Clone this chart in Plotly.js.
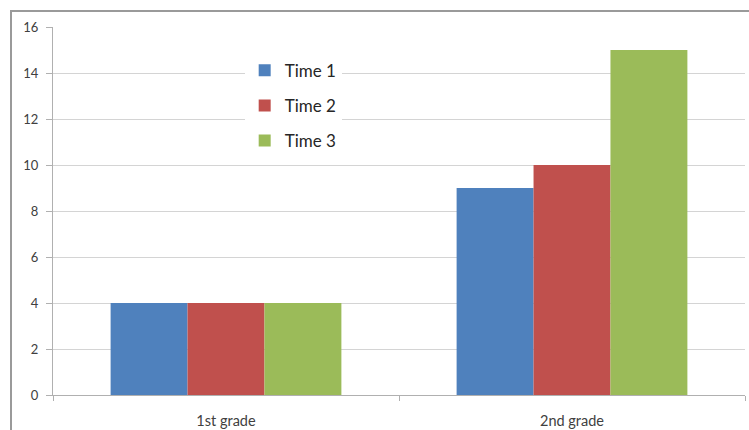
<!DOCTYPE html>
<html><head><meta charset="utf-8">
<script src="https://cdn.plot.ly/plotly-3.0.1.min.js"></script>
<style>
html,body{margin:0;padding:0;background:#fff;}
#wrap{position:relative;width:749px;height:430px;overflow:hidden;}
#frame{position:absolute;left:10px;top:10px;width:800px;height:500px;border-left:2px solid #9a9a9a;border-top:2px solid #9a9a9a;pointer-events:none;}
#chart{position:absolute;left:0;top:0;width:749px;height:430px;}
</style></head>
<body>
<div id="wrap"><div id="chart"></div><div id="frame"></div></div>
<script>
const categories = ["1st grade", "2nd grade"];
const seriesNames = ["Time 1", "Time 2", "Time 3"];
const time1 = [4, 9];
const time2 = [4, 10];
const time3 = [4, 15];
const colors = ["#4f81bd", "#c0504d", "#9bbb59"];
const values = [time1, time2, time3];

const traces = values.map((v, i) => ({
  type: "bar",
  name: seriesNames[i],
  x: categories,
  y: v,
  marker: {color: colors[i], line: {width: 0}},
  legendgroup: "g" + i,
  hoverinfo: "x+y+name"
}));

const layout = {
  width: 749, height: 430,
  margin: {l: 53, r: 4, t: 27, b: 35},
  paper_bgcolor: "#ffffff",
  plot_bgcolor: "#ffffff",
  barmode: "group",
  bargap: 0.333,
  bargroupgap: 0,
  font: {family: "Lato, 'Open Sans', sans-serif", color: "#404040", size: 12},
  xaxis: {
    type: "category",
    range: [-0.5, 1.5],
    showline: true, linecolor: "#b0b0b0", linewidth: 1,
    ticks: "outside", tickson: "boundaries", ticklen: 5, tickcolor: "#b0b0b0",
    showgrid: false, zeroline: false,
    tickfont: {size: 14.5, color: "#404040"},
    ticklabelstandoff: 13
  },
  yaxis: {
    range: [0, 16],
    dtick: 2,
    showline: true, linecolor: "#b0b0b0", linewidth: 1,
    ticks: "outside", ticklen: 6, tickcolor: "#b0b0b0",
    showgrid: true, gridcolor: "#d4d4d4", gridwidth: 1,
    zeroline: false,
    tickfont: {size: 13, color: "#404040"},
    ticklabelstandoff: 5
  },
  showlegend: true,
  legend: {
    x: 0.277, y: 0.93, xanchor: "left", yanchor: "top",
    bgcolor: "#ffffff",
    font: {size: 17, color: "#262626"},
    tracegroupgap: 10,
    itemclick: false, itemdoubleclick: false
  }
};

Plotly.newPlot("chart", traces, layout, {displayModeBar: false, staticPlot: true});
</script>
</body></html>
